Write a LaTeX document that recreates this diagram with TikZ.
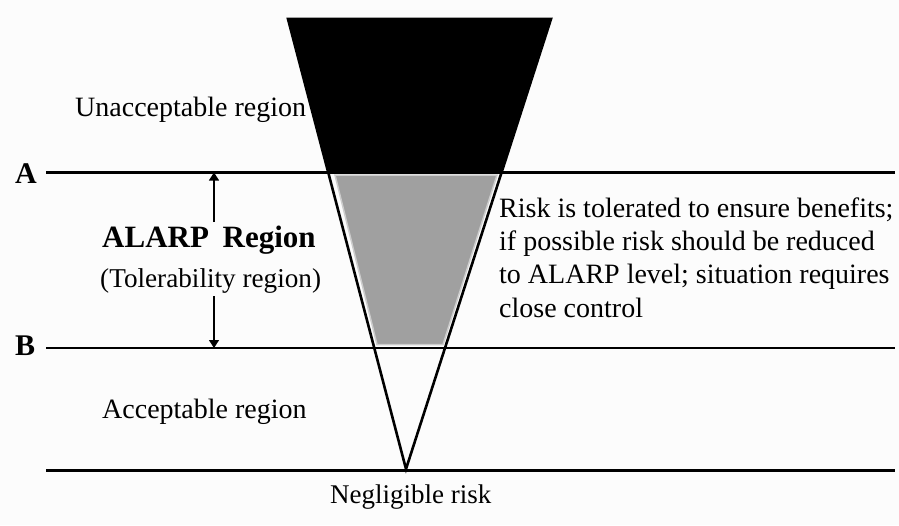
\documentclass[tikz,border=0pt]{standalone}
\usepackage{fontspec}
\setmainfont{Liberation Serif}
\usetikzlibrary{arrows.meta}
\definecolor{bg}{RGB}{252,252,252}
\definecolor{alarpgray}{RGB}{160,160,160}
\definecolor{edgegray}{RGB}{205,205,205}
\tikzset{
  lbl/.style={inner sep=0pt, font=\fontsize{28}{33.3}\selectfont},
  boldlbl/.style={inner sep=0pt, font=\bfseries\fontsize{30}{34}\selectfont},
  level/.style={line width=2.6pt},
  funnel/.style={line width=2.6pt, line join=miter},
  dimarrow/.style={line width=1.2pt, -{Triangle[width=10pt,length=8pt]}},
}
\begin{document}
\begin{tikzpicture}[x=1pt,y=-1pt]
\fill[bg] (0,0) rectangle (899,525);
\useasboundingbox (0,0) rectangle (899,525);
% funnel corners
\coordinate (TL) at (288,19);
\coordinate (TR) at (551,19);
\coordinate (V) at (406,469);
% level lines
\coordinate (AL) at (46,172.5);
\coordinate (AR) at (895,172.5);
\coordinate (BL) at (46,348);
\coordinate (BR) at (895,348);
\coordinate (NL) at (46,470.5);
\coordinate (NR) at (895,470.5);
% unacceptable (black) part
\fill[black] (TL) -- (TR) -- (intersection of TR--V and AL--AR)
  -- (intersection of TL--V and AL--AR) -- cycle;
% ALARP (gray) part
\filldraw[fill=alarpgray, draw=edgegray, line width=1.5pt]
  (335,175) -- (497,175) -- (443,344.5) -- (377,344.5) -- cycle;
% levels
\draw[level] (AL) -- (AR);
\draw[level] (BL) -- (BR);
\draw[level] (NL) -- (NR);
% funnel outline
\draw[funnel] (TL) -- (TR) -- (V) -- cycle;
% labels
\node[lbl, anchor=base west] (unacc) at (75,116) {Unacceptable region};
\node[boldlbl, anchor=base west] (A) at (15,183) {A};
\node[boldlbl, anchor=base west] (B) at (15,355.5) {B};
\node[inner sep=0pt, font=\bfseries\fontsize{31}{34}\selectfont, anchor=base west] (alarp) at (102,247) {ALARP\hspace{6pt} Region};
\node[inner sep=0pt, font=\fontsize{27.2}{32}\selectfont, anchor=base west] (toler) at (100,287) {(Tolerability region)};
\node[lbl, anchor=base west] (acc) at (102,418) {Acceptable region};
\node[inner sep=0pt, font=\fontsize{27}{32}\selectfont, anchor=base west] (negl) at (330,503) {Negligible risk};
\node[lbl, anchor=base west, align=left] (desc) at (499,317)
  {Risk is tolerated to ensure benefits;\\
   if possible risk should be reduced\\
   to ALARP level; situation requires\\
   close control};
% tolerability arrows
\coordinate (upstart) at (214,222);
\coordinate (downstart) at (214,296);
\draw[dimarrow] (upstart) -- (AL -| upstart);
\draw[dimarrow] (downstart) -- (BL -| downstart);
\end{tikzpicture}
\end{document}
